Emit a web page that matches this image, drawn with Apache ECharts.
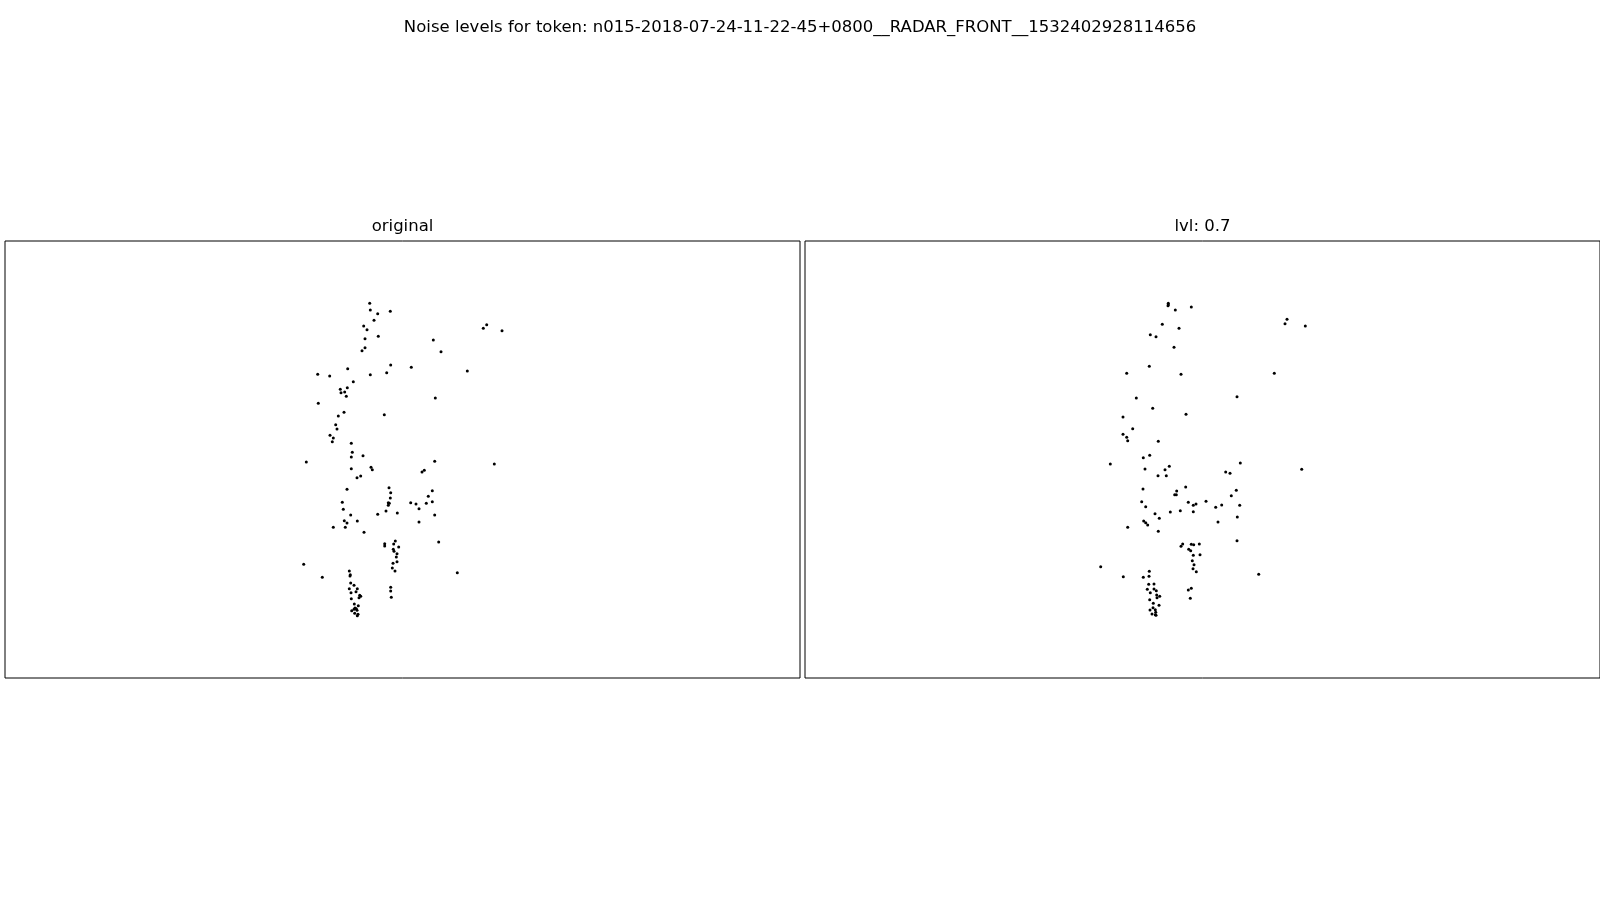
<!DOCTYPE html>
<html>
<head>
<meta charset="utf-8">
<script src="https://cdn.jsdelivr.net/npm/echarts@6/dist/echarts.min.js"></script>
<style>
  html, body { margin: 0; padding: 0; background: #fff; }
  #chart { width: 1600px; height: 900px; }
</style>
</head>
<body>
<div id="chart"></div>
<script>
// point positions in panel units (x to the right, y downward)
const originalPoints = [
  [364.7, 62.3], [365.3, 69], [372.7, 72.7], [385.3, 70.3], [369, 79.3], [358.7, 85], [362, 88.7],
  [373.3, 95.3], [360, 97.7], [360, 106.7], [357, 109.7], [428.3, 99], [436, 110.7], [481.7, 83.7],
  [478.3, 87.3], [497, 89.7], [385.7, 124], [406.3, 126.3], [462.3, 130], [342.7, 127.7], [312.7, 133.3],
  [324.7, 135], [365.3, 133.7], [381.7, 131.7], [348.3, 140.7], [342.3, 146.7], [335.3, 148.3], [336, 151.7],
  [339.7, 151], [341.3, 155.3], [430.3, 157], [313.3, 162.3], [339, 171.3], [333.3, 175], [379.3, 173.7],
  [330.7, 183.7], [332, 188], [325, 194.3], [328.3, 197], [327.3, 200.7], [346.3, 202.3], [347.3, 211.3],
  [346.3, 216], [358, 214.7],
  [301.3, 221], [346.3, 227.7], [366, 226.3], [367.3, 228.7], [355.7, 235], [352, 236.7], [429.7, 220.3],
  [489.3, 223], [419.3, 229.3], [417, 231], [342, 248.3], [384, 246.7], [385.7, 251.7], [385.3, 257],
  [383.3, 261.7], [384.3, 262.3], [383.3, 264.3], [337.3, 261.3], [338.3, 268.3], [345.7, 274], [381, 270],
  [392.3, 272], [372.7, 273.3], [352.3, 280], [339.3, 279.7], [342, 282], [328.3, 286.3], [340.3, 286.3],
  [359, 291.3], [427.3, 249.7], [423.3, 255.3], [427.3, 260.7], [421.3, 262.3], [405.7, 261.7], [411, 263],
  [414, 267.7], [429.7, 274], [414, 281], [433.7, 301], [390.3, 300], [388.7, 303], [379.7, 302.7],
  [379.7, 305], [393.7, 306], [388.3, 308.3], [389, 310.3], [392, 312.7], [391.3, 316], [392, 320.7],
  [388, 322.3], [387.3, 327], [390, 330], [298.7, 323.3], [317.3, 336.3], [452.3, 331.7], [344.3, 330],
  [345.3, 333.7], [345, 335], [345.7, 342], [349, 344.3], [344.3, 347.7], [352.3, 347.7], [346, 351.7],
  [351, 350.7], [354.7, 354.3], [355.7, 355.3], [354, 356.7], [346.3, 357.7], [385.7, 346.3], [385.7, 350],
  [386.3, 356.3], [349.3, 363], [353.3, 364.7], [350, 367], [351.3, 367.7], [349, 368.3], [346.7, 369.7],
  [352, 369.3], [349.7, 372.3], [353, 373.3], [352.3, 374.7]
];

const noisyPoints = [
  [363.3, 62.3], [363.3, 63.7], [363, 64.7], [370.3, 69], [386.3, 66], [357.3, 83.3], [374, 87.3],
  [345.3, 93.7], [351, 95.7], [369, 106.3], [482, 78.3], [480, 82.7], [500.3, 85], [344.3, 125.3],
  [321.7, 132.3], [376, 133.3], [469.3, 132.3], [432, 155.7], [331.3, 157], [347.7, 167.3], [318, 176],
  [381, 173.3], [327.7, 187.7], [318, 193.3], [321.7, 196.3], [322.7, 199.7], [353.3, 200.3], [344.7, 214.3],
  [338.3, 216.7],
  [305.3, 223], [340, 228], [360, 228.7], [364.3, 225.3], [353, 234.7], [361.3, 234.7], [435.3, 222],
  [496.7, 228.3], [420.7, 231], [425, 232.3], [338, 248], [380.7, 246], [371.7, 250], [369.7, 253.7],
  [371.3, 253.7], [336.7, 260.7], [340.7, 265.7], [383.3, 261.3], [388.3, 264.3], [391, 263], [401, 260.3],
  [431.3, 249.3], [426.3, 254.7], [434.7, 264.3], [416.7, 264], [410.7, 266.3], [388.3, 270.7], [375.3, 269.7],
  [365.3, 271], [350, 272.7], [354.3, 277.3], [432.3, 276], [413, 281], [338.7, 280], [340.7, 281.7],
  [342.7, 284], [322.7, 286.3], [353.3, 290.3], [432, 299.7], [377.7, 303], [376, 305.3], [386.3, 303.3],
  [388.7, 303.7], [394.3, 303], [383.7, 308.3], [385.7, 309.7], [388.3, 314.3], [395, 313.7], [387.3, 319.7],
  [389, 323.7], [388, 327.7], [391.3, 330.7], [295.7, 325.7], [318.3, 335.7], [338.3, 336.3], [344.3, 330.3],
  [344, 335.3], [453.7, 333.3], [343.7, 343.3], [349, 343], [342.3, 348.3], [349, 348], [351.3, 349.7],
  [345.3, 351.7], [351.7, 354], [354.7, 355.3], [352, 356.7], [344.7, 358.7], [383.3, 349], [386.3, 347.3],
  [385.3, 357.3], [348.3, 362.3], [354, 364.3], [348, 366.7], [345, 369], [350.3, 368.7], [350.7, 371.3],
  [347, 373], [350.3, 373.7], [351, 374.3]
];

const panelTitles = ['original', 'lvl: 0.7'];
const mainTitle = 'Noise levels for token: n015-2018-07-24-11-22-45+0800__RADAR_FRONT__1532402928114656';

const chart = echarts.init(document.getElementById('chart'));

const font = 'DejaVu Sans';
const grids = [
  { left: 5, top: 241, width: 795, height: 437 },
  { left: 805, top: 241, width: 795, height: 437 }
];

chart.setOption({
  animation: false,
  backgroundColor: '#fff',
  title: [
    {
      text: mainTitle, left: 800, top: 19, textAlign: 'center', padding: 0,
      textStyle: { fontFamily: font, fontSize: 16.5, fontWeight: 'normal', color: '#000' }
    },
    ...panelTitles.map((t, i) => ({
      text: t, left: grids[i].left + 397.5, top: 218, textAlign: 'center', padding: 0,
      textStyle: { fontFamily: font, fontSize: 16.5, fontWeight: 'normal', color: '#000' }
    }))
  ],
  grid: grids.map(g => ({ ...g, show: true, borderColor: '#000', borderWidth: 1, backgroundColor: '#fff' })),
  xAxis: grids.map((g, i) => ({
    type: 'value', gridIndex: i, min: 0, max: 795, show: false
  })),
  yAxis: grids.map((g, i) => ({
    type: 'value', gridIndex: i, min: 0, max: 437, inverse: true, show: false
  })),
  series: [originalPoints, noisyPoints].map((pts, i) => ({
    type: 'scatter',
    xAxisIndex: i,
    yAxisIndex: i,
    data: pts,
    symbol: 'circle',
    symbolSize: 3,
    itemStyle: { color: '#000', opacity: 1 },
    silent: true
  }))
});
</script>
</body>
</html>
